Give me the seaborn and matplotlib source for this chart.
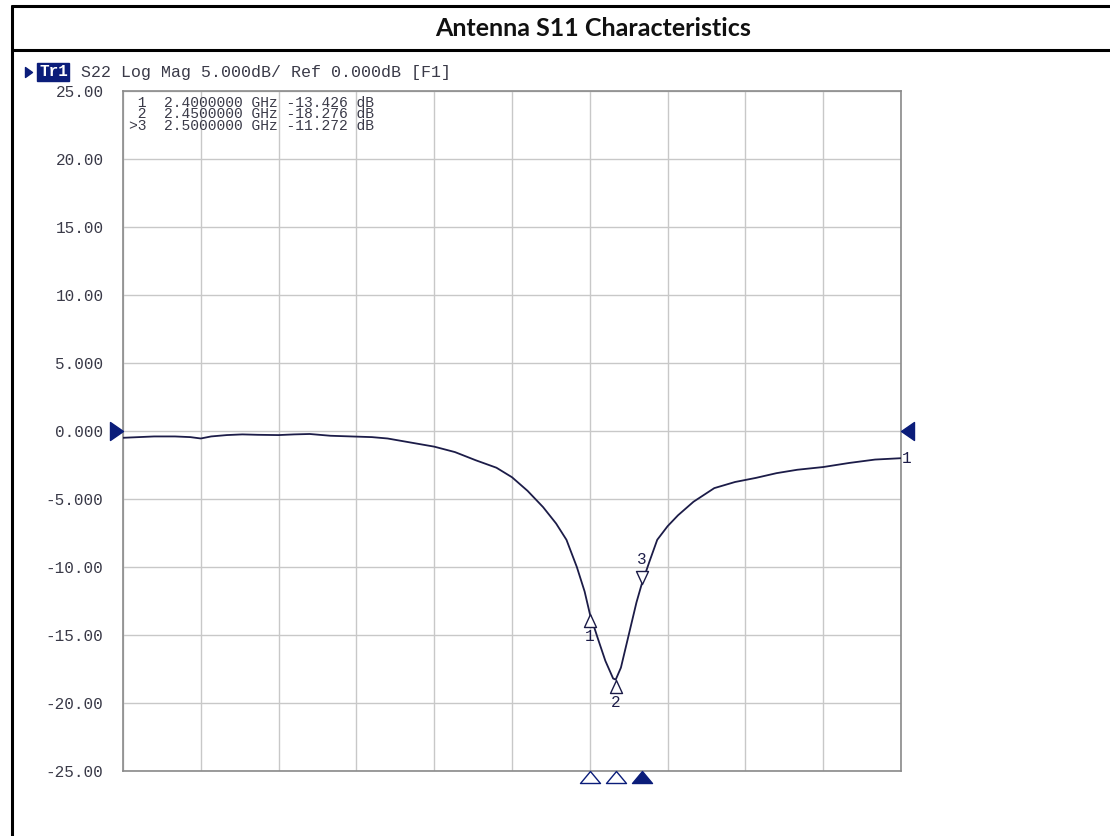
import matplotlib
matplotlib.use("Agg")
import matplotlib.pyplot as plt
import numpy as np
import pandas as pd
import seaborn as sns
from matplotlib.lines import Line2D
from matplotlib.path import Path

# trace (GHz, dB)
freq_ghz = [1.500, 1.530, 1.560, 1.600, 1.630, 1.650, 1.670, 1.700, 1.730,
            1.760, 1.800, 1.830, 1.860, 1.900, 1.940, 1.980, 2.010, 2.040,
            2.070, 2.100, 2.140, 2.180, 2.220, 2.250, 2.280, 2.310, 2.335,
            2.355, 2.375, 2.390, 2.400, 2.415, 2.430, 2.445, 2.450, 2.460,
            2.475, 2.490, 2.500, 2.515, 2.530, 2.550, 2.570, 2.600, 2.640,
            2.680, 2.720, 2.760, 2.800, 2.850, 2.900, 2.950, 3.000]
s22_db = [-0.50, -0.45, -0.40, -0.40, -0.45, -0.55, -0.40, -0.30, -0.25,
          -0.28, -0.30, -0.25, -0.22, -0.35, -0.40, -0.45, -0.55, -0.75,
          -0.95, -1.15, -1.55, -2.15, -2.70, -3.40, -4.40, -5.60, -6.80,
          -8.00, -10.00, -11.80, -13.43, -15.20, -16.90, -18.20, -18.28, -17.40,
          -15.00, -12.60, -11.27, -9.60, -8.00, -7.00, -6.20, -5.20, -4.20,
          -3.75, -3.45, -3.10, -2.85, -2.65, -2.35, -2.10, -2.00]

marker_ids = [1, 2, 3]
marker_freqs = [2.40, 2.45, 2.50]
marker_vals = [-13.426, -18.276, -11.272]
active_marker = 3

y_ticks = [25, 20, 15, 10, 5, 0, -5, -10, -15, -20, -25]
y_tick_labels = ["25.00", "20.00", "15.00", "10.00", "5.000", "0.000",
                 "-5.000", "-10.00", "-15.00", "-20.00", "-25.00"]

title = "Antenna S11 Characteristics"
header = "S22 Log Mag 5.000dB/ Ref 0.000dB [F1]"

W, H = 1110, 836
NAVY = "#0b1d7a"
TRACE = "#1c1c48"
TXT = "#3a3a48"
MONO = ["Liberation Mono", "DejaVu Sans Mono"]


def fpos(x, y):
    return x / W, 1 - y / H


def tri(verts_px):
    m = max(abs(v) for p in verts_px for v in p)
    return Path(verts_px + [verts_px[0]], closed=True), 2 * m * 0.72


sns.set_theme(style="white")
plt.rcParams["font.family"] = MONO

fig = plt.figure(figsize=(W / 100, H / 100), dpi=100)
ax = fig.add_axes([123 / W, 1 - 771 / H, 778 / W, 680 / H])

df = pd.DataFrame({"freq": freq_ghz, "s22": s22_db})
sns.lineplot(data=df, x="freq", y="s22", ax=ax, color=TRACE, lw=1.3, zorder=3)

ax.set_xlim(1.5, 3.0)
ax.set_ylim(-25, 25)
ax.set_xticks(np.linspace(1.5, 3.0, 11))
ax.set_xticklabels([])
ax.set_yticks(y_ticks)
ax.set_yticklabels(y_tick_labels, fontsize=11.5, color=TXT)
ax.tick_params(length=0, pad=14)
ax.set_xlabel("")
ax.set_ylabel("")
ax.grid(True, color="#c8c8c8", lw=1)
for sp in ax.spines.values():
    sp.set_color("#8a8a8a")
    sp.set_linewidth(1.2)

# marker readout table
rows = []
for mid, mf, mv in zip(marker_ids, marker_freqs, marker_vals):
    flag = ">" if mid == active_marker else " "
    rows.append(f"{flag}{mid}  {mf:.7f} GHz {mv:.3f} dB")
fig.text(*fpos(129, 96), "\n".join(rows), fontsize=10.5, color=TXT,
         ha="left", va="top", linespacing=0.76)

# markers on the trace
up_path, up_ms = tri([(0, 0), (-6, -13), (6, -13)])
dn_path, dn_ms = tri([(0, 0), (-6, 13), (6, 13)])
for mid, mf, mv in zip(marker_ids, marker_freqs, marker_vals):
    below = mid != active_marker
    ax.plot(mf, mv, marker=up_path if below else dn_path,
            ms=up_ms if below else dn_ms, mfc="white", mec=TRACE, mew=1,
            ls="none", zorder=4)
    ax.annotate(str(mid), (mf, mv), xytext=(0, -23 if below else 25),
                textcoords="offset pixels", ha="center", va="center",
                fontsize=11.5, color=TRACE)

# stimulus markers under the axis
st_path, st_ms = tri([(0, 0), (-10, -12), (10, -12)])
for mid, mf in zip(marker_ids, marker_freqs):
    ax.plot(mf, -25, marker=st_path, ms=st_ms, ls="none", clip_on=False,
            mfc=NAVY if mid == active_marker else "white", mec=NAVY, mew=1,
            zorder=5)

# reference level arrows
l_path, l_ms = tri([(0, 0), (-13, -9), (-13, 9)])
r_path, r_ms = tri([(0, 0), (13, -9), (13, 9)])
ax.plot(1.5, 0, marker=l_path, ms=l_ms, color=NAVY, ls="none", clip_on=False, zorder=5)
ax.plot(3.0, 0, marker=r_path, ms=r_ms, color=NAVY, ls="none", clip_on=False, zorder=5)
ax.annotate("1", (freq_ghz[-1], s22_db[-1]), xytext=(1, 0),
            textcoords="offset pixels", ha="left", va="center",
            fontsize=11.5, color=TRACE)

# header line
hp_path, hp_ms = tri([(0, 0), (-7, -5), (-7, 5)])
fig.add_artist(Line2D([fpos(32, 72)[0]], [fpos(32, 72)[1]], marker=hp_path,
                      ms=hp_ms, color=NAVY, ls="none",
                      transform=fig.transFigure))
fig.text(*fpos(39, 72), "Tr1", fontsize=11.5, color="white", fontweight="bold",
         ha="left", va="center",
         bbox=dict(boxstyle="square,pad=0.1", fc=NAVY, ec=NAVY))
fig.text(*fpos(81, 72), header, fontsize=12, color=TXT, ha="left", va="center")

# outer frame and title
for xs, ys in [([12, 12], [6, H]), ([12, W], [6, 6]), ([12, W], [50, 50])]:
    fig.add_artist(Line2D([x / W for x in xs], [1 - y / H for y in ys],
                          color="black", lw=2.2, transform=fig.transFigure))
fig.text(*fpos(593, 28), title, fontsize=18, fontweight="bold",
         family=["Lato", "DejaVu Sans"], ha="center", va="center",
         color="#111111")

fig.savefig("out.png", dpi=100, facecolor="white")
